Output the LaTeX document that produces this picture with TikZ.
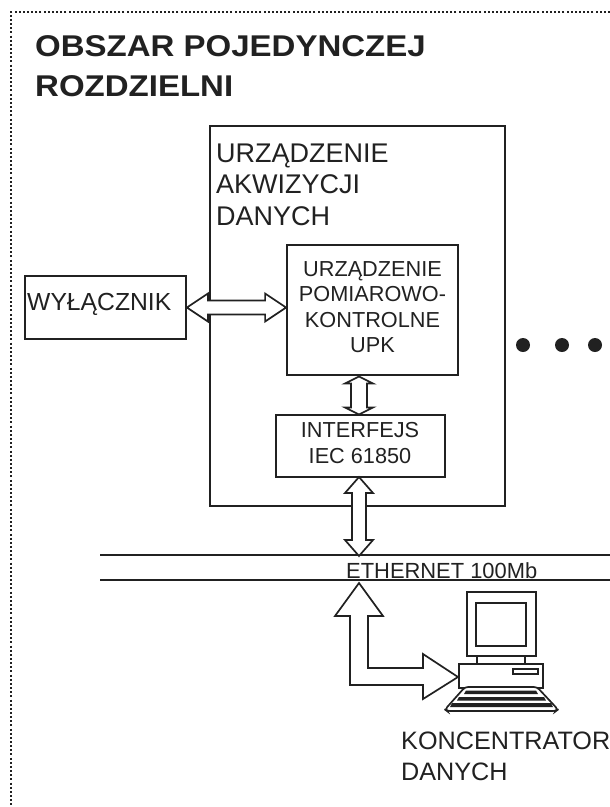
\documentclass[tikz,border=0pt]{standalone}
\usepackage{fontspec}
\setmainfont{Liberation Sans}
\usepackage{xcolor}
\usepackage{tikz}
\usetikzlibrary{calc,positioning}
\definecolor{ink}{gray}{0.13}
\newcommand{\fsize}[1]{\fontsize{#1}{#1}\selectfont}

\begin{document}
\begin{tikzpicture}[
    x=1pt, y=-1pt,
    box/.style={draw=ink, line width=1.8pt, inner sep=0pt},
    txt/.style={text=ink, align=left, inner sep=0pt, anchor=north west},
    boxtxt/.style={text=ink, align=center, inner sep=0pt, font=\fsize{21.7}},
    dot/.style={circle, fill=ink, inner sep=0pt, minimum size=14pt},
    busline/.style={draw=ink, line width=1.4pt},
    % #1 tip length at the end, #2 half width of the head, #3 half width of the shaft
    blockarrow/.style n args={3}{draw=ink, line width=1.7pt, fill=white, line join=miter, to path={
        (\tikztostart)
        -- ($(\tikztostart)!#1!(\tikztotarget)!#2!90:(\tikztotarget)$)
        -- ($(\tikztostart)!#1!(\tikztotarget)!#3!90:(\tikztotarget)$)
        -- ($(\tikztotarget)!#1!(\tikztostart)!#3!-90:(\tikztostart)$)
        -- ($(\tikztotarget)!#1!(\tikztostart)!#2!-90:(\tikztostart)$)
        -- (\tikztotarget)
        -- ($(\tikztotarget)!#1!(\tikztostart)!#2!90:(\tikztostart)$)
        -- ($(\tikztotarget)!#1!(\tikztostart)!#3!90:(\tikztostart)$)
        -- ($(\tikztostart)!#1!(\tikztotarget)!#3!-90:(\tikztotarget)$)
        -- ($(\tikztostart)!#1!(\tikztotarget)!#2!-90:(\tikztotarget)$)
        -- cycle}}
]
\useasboundingbox (0,0) rectangle (610,807);
% dotted frame
\draw[ink, line width=1.8pt, dash pattern=on 2pt off 2.15pt] (610,12) -- (11,12) -- (11,807);
\node[txt, font=\fsize{30}\bfseries, xscale=1.1] (title) at (35,35.5) {OBSZAR POJEDYNCZEJ\\[10pt]ROZDZIELNI};
% boxes
\node[box, minimum width=295pt, minimum height=380pt] (akw) at (357.5,316) {};
\node[txt, font=\fsize{27}] (akwtxt) at (216,143.7) {URZĄDZENIE\\[4.5pt]AKWIZYCJI\\[4.5pt]DANYCH};
\node[box, minimum width=171pt, minimum height=130pt] (upk) at (372.5,310) {};
\node[boxtxt] (upktxt) at (372.5,307) {URZĄDZENIE\\[3.8pt]POMIAROWO-\\[3.8pt]KONTROLNE\\[3.8pt]UPK};
\node[box, minimum width=169pt, minimum height=62pt] (iec) at (360.5,446) {};
\node[boxtxt] (iectxt) at (360,443) {INTERFEJS\\[4.3pt]IEC 61850};
\node[box, minimum width=161pt, minimum height=63pt] (wyl) at (105.5,307.5) {};
\node[txt, anchor=base west, font=\fsize{24.7}] (wyltxt) at (27,310) {WYŁĄCZNIK};
% dots
\node[dot] (d1) at (523,345) {};
\node[dot] (d2) at (562,345) {};
\node[dot] (d3) at (595,345) {};
% ethernet
\coordinate (busa) at (100,555);
\coordinate (busb) at (610,555);
\coordinate (busc) at (100,580);
\coordinate (busd) at (610,580);
\draw[busline] (busa) -- (busb);
\draw[busline] (busc) -- (busd);
\node[txt, font=\fsize{21.9}] (eth) at (346,562.3) {ETHERNET 100Mb};
% arrows
\draw[blockarrow={21pt}{14pt}{7pt}] (wyl.east) to (upk.west |- wyl.east);
\draw[blockarrow={7pt}{14pt}{8pt}] (359,376.5) to (359,414.5);
\coordinate (ieca) at (359,477);
\coordinate (ethtop) at (359,556);
\draw[blockarrow={16pt}{14pt}{7pt}] (ieca) to (ethtop);
% computer
\coordinate (pc) at (458,677);
\coordinate (ethbot) at (359,583);
\draw[draw=ink, line width=1.7pt, fill=white, line join=miter] (ethbot) -- ++(24,33) -- ++(-15,0) |- (423,668) -- (423,654)
    -- (pc) -- (423,699) -- (423,685) -| (350,616) -- (335,616) -- cycle;
\node[box, minimum width=69pt, minimum height=64pt] (mon) at (501.5,624) {};
\node[box, minimum width=50pt, minimum height=43pt] (scr) at (501,624.5) {};
\node[box, minimum width=84pt, minimum height=24pt] (base) at (501,676) {};
\node[box, line width=1.4pt, minimum width=25pt, minimum height=5pt] (slot) at (525.5,671.5) {};
\draw[ink, line width=1.7pt] ($(mon.south)+(-24.5,0)$) -- ($(base.north)+(-24,0)$);
\draw[ink, line width=1.7pt] ($(mon.south)+(23.5,0)$) -- ($(base.north)+(24,0)$);
\draw[ink, line width=1.7pt, fill=white, rounded corners=3pt] (465,687) -- (537,687) -- (558,709.5) -- (556,711) -- (447,711) -- (445,709.5) -- cycle;
\fill[ink] (466,690.5) -- (536,690.5) -- (538,694) -- (464,694) -- cycle;
\fill[ink] (459,697) -- (544,697) -- (546,700.5) -- (457,700.5) -- cycle;
\fill[ink] (452,703) -- (551,703) -- (553,707) -- (450,707) -- cycle;
\node[txt, font=\fsize{25.2}] (konc) at (401,732) {KONCENTRATOR\\[5.8pt]DANYCH};
\end{tikzpicture}
\end{document}
